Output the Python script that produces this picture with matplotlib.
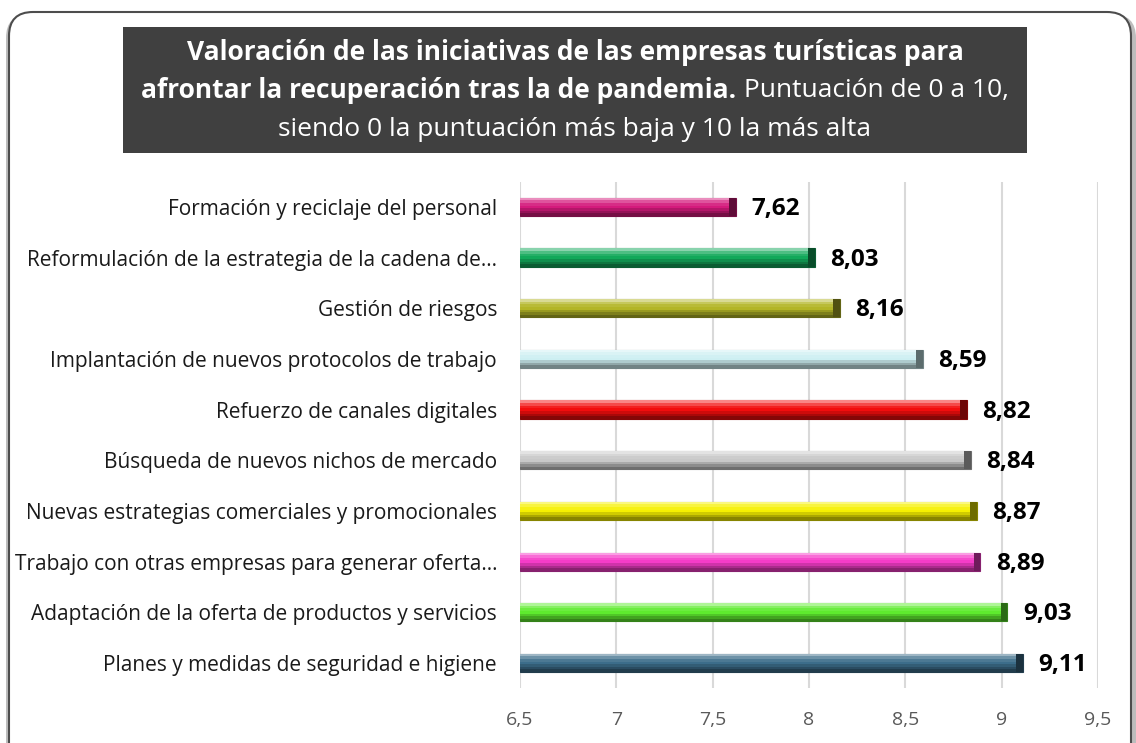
import numpy as np
import matplotlib.pyplot as plt
import matplotlib.colors as mcolors
from matplotlib.patches import FancyBboxPatch, Rectangle

plt.rcParams['font.family'] = ['Open Sans', 'DejaVu Sans']

# data (top to bottom as in the chart)
categories = [
    "Formación y reciclaje del personal",
    "Reformulación de la estrategia de la cadena de…",
    "Gestión de riesgos",
    "Implantación de nuevos protocolos de trabajo",
    "Refuerzo de canales digitales",
    "Búsqueda de nuevos nichos de mercado",
    "Nuevas estrategias comerciales y promocionales",
    "Trabajo con otras empresas para generar oferta…",
    "Adaptación de la oferta de productos y servicios",
    "Planes y medidas de seguridad e higiene",
]
values = [7.62, 8.03, 8.16, 8.59, 8.82, 8.84, 8.87, 8.89, 9.03, 9.11]
colors = ["#D41A7C", "#12A85A", "#B3B526", "#CDEFF2", "#F20D0D",
          "#C8C8C8", "#F5F000", "#F53CC8", "#5EEB2E", "#3C6D8A"]
xticks = [6.5, 7, 7.5, 8, 8.5, 9, 9.5]
xticklabels = ["6,5", "7", "7,5", "8", "8,5", "9", "9,5"]

W, H = 1136, 743
fig = plt.figure(figsize=(W / 100, H / 100), dpi=100)

# rounded frame with soft shadow (display pixels, origin bottom-left)
shadow = FancyBboxPatch((6, -40), 1130, 769, boxstyle="round,pad=0,rounding_size=24",
                        transform=None, facecolor="#BDBDBD", edgecolor="none", zorder=0)
frame = FancyBboxPatch((9, -40), 1122, 771, boxstyle="round,pad=0,rounding_size=24",
                       transform=None, facecolor="white", edgecolor="#4D4D4D", lw=1.5, zorder=1)
fig.patches.extend([shadow, frame])

# title box
fig.patches.append(Rectangle((123 / W, 1 - 153 / H), 904 / W, 126 / H,
                             transform=fig.transFigure, facecolor="#404040",
                             edgecolor="none", zorder=2))
tsize = 19
fig.text(575 / W, 1 - 52 / H, "Valoración de las iniciativas de las empresas turísticas para",
         ha="center", va="center", color="white", fontsize=tsize, fontweight="bold", zorder=3)
t_bold = fig.text(0, 1 - 90 / H, "afrontar la recuperación tras la de pandemia.",
                  ha="left", va="center", color="white", fontsize=tsize, fontweight="bold", zorder=3)
t_reg = fig.text(0, 1 - 90 / H, " Puntuación de 0 a 10,",
                 ha="left", va="center", color="white", fontsize=tsize, zorder=3)
fig.text(575 / W, 1 - 129 / H, "siendo 0 la puntuación más baja y 10 la más alta",
         ha="center", va="center", color="white", fontsize=tsize, zorder=3)
r = fig.canvas.get_renderer()
wb = t_bold.get_window_extent(r).width
wr = t_reg.get_window_extent(r).width
x0 = 575 - (wb + wr) / 2
t_bold.set_x(x0 / W)
t_reg.set_x((x0 + wb) / W)

# axes
ax = fig.add_axes([520 / W, 1 - 688.3 / H, 578 / W, 506.7 / H], zorder=4)
ax.set_facecolor("none")
y = np.arange(len(values))
ax.set_xlim(6.5, 9.5)
ax.set_ylim(len(values) - 0.5, -0.5)

bh = 0.36
# bevel profile: brightness shifts from top strip to bottom strip
profile = [0.5, 0.25, 0.08, 0.0, -0.15, -0.3, -0.45]
ns = len(profile)
for i, (v, c) in enumerate(zip(values, colors)):
    base = np.array(mcolors.to_rgb(c))
    dark = base * 0.55
    ax.barh(y[i], v - 6.5, left=6.5, height=bh, color=c, edgecolor=dark, lw=0.8, zorder=2)
    for k, f in enumerate(profile):
        col = base + (1 - base) * f if f > 0 else base * (1 + f)
        ax.barh(y[i] - bh / 2 + k * bh / ns, v - 6.5, left=6.5, height=bh / ns,
                align="edge", color=col, lw=0, zorder=3)
    # darker end cap
    ax.barh(y[i], 0.035, left=v - 0.035, height=bh, color=base * 0.45, lw=0, zorder=4)
    ax.text(v + 0.08, y[i] + 0.04, f"{v:.2f}".replace(".", ","), ha="left", va="center",
            fontsize=17.5, fontweight="bold", color="black", zorder=5)

ax.set_yticks(y)
ax.set_yticklabels(categories, fontsize=15, color="#1A1A1A")
ax.set_xticks(xticks)
ax.set_xticklabels(xticklabels, fontsize=14, color="#595959")
ax.tick_params(axis="y", length=0, pad=16.5)
ax.tick_params(axis="x", length=0, pad=16)
ax.grid(axis="x", color="#D9D9D9", lw=1.5, zorder=0)
ax.set_axisbelow(True)
for s in ax.spines.values():
    s.set_visible(False)

fig.savefig("out.png", dpi=100)
